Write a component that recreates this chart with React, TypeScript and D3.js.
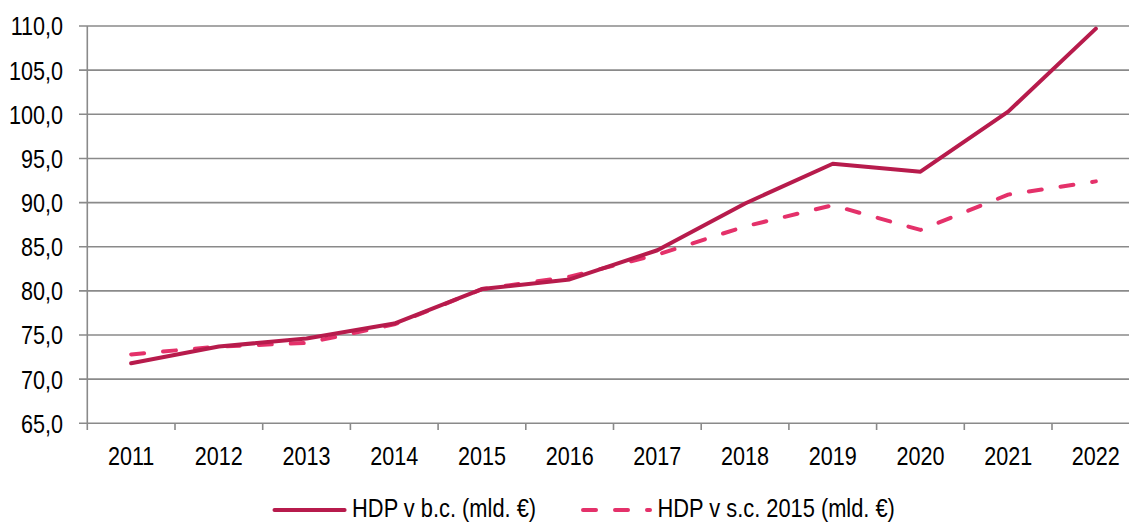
import React from 'react'
import * as d3 from 'd3'

const years = ['2011', '2012', '2013', '2014', '2015', '2016', '2017', '2018', '2019', '2020', '2021', '2022']
const hdpBc = [71.8, 73.7, 74.6, 76.3, 80.2, 81.3, 84.6, 89.9, 94.4, 93.5, 100.3, 109.7]
const hdpSc = [72.8, 73.7, 74.1, 76.2, 80.2, 81.6, 84.1, 87.3, 89.7, 86.9, 90.9, 92.4]
const yTicks = [65, 70, 75, 80, 85, 90, 95, 100, 105, 110]
const seriesNames = ['HDP v b.c. (mld. €)', 'HDP v s.c. 2015 (mld. €)']

const W = 1129
const H = 522
const FONT = "'Liberation Sans', Arial, sans-serif"
const SOLID = '#b71b4c'
const DASHED = '#e4316a'
const GRID = '#8a8a8a'

// no narrow font installed, so squeeze Liberation Sans horizontally
const Narrow = ({ x, y, anchor = 'start', dy, sx = 0.83, children }: any) => (
    <g transform={`translate(${x},${y}) scale(${sx},1)`}>
        <text x={0} y={0} dy={dy} textAnchor={anchor} fontSize={26} fill="#000">{children}</text>
    </g>
)

const App = () => {
    const left = 87.3
    const step = 87.7
    const x = d3.scaleBand().domain(years).range([left, left + step * years.length])
    const y = d3.scaleLinear().domain([65, 110]).range([423.3, 26])

    const line = d3.line<number>()
        .x((_, i) => x(years[i])! + x.bandwidth() / 2)
        .y(d => y(d))

    const legend = [
        { name: seriesNames[0], x1: 274.5, x2: 344.6, color: SOLID, dash: undefined },
        { name: seriesNames[1], x1: 583, x2: 650, color: DASHED, dash: '13,19' },
    ]

    return (
        <svg width={W} height={H} style={{ position: 'absolute', left: 0, top: 0, background: '#fff' }}
            fontFamily={FONT}>
            {/* gridlines + y ticks */}
            {yTicks.map(t => (
                <g key={t}>
                    <line x1={79} x2={W} y1={y(t)} y2={y(t)} stroke={GRID} strokeWidth={1.6} />
                    <Narrow x={63} y={y(t)} dy="0.36em" anchor="end">
                        {d3.format('.1f')(t).replace('.', ',')}
                    </Narrow>
                </g>
            ))}
            {/* y axis line */}
            <line x1={left} x2={left} y1={y(110)} y2={430} stroke={GRID} strokeWidth={1.6} />
            {/* x ticks */}
            {years.map((yr, i) => (
                <line key={'t' + yr} x1={left + step * (i + 1)} x2={left + step * (i + 1)}
                    y1={y(65)} y2={430} stroke={GRID} strokeWidth={1.6} />
            ))}
            {years.map(yr => (
                <Narrow key={yr} x={x(yr)! + x.bandwidth() / 2} y={465} anchor="middle">{yr}</Narrow>
            ))}
            {/* series */}
            <path d={line(hdpSc)!} fill="none" stroke={DASHED} strokeWidth={4}
                strokeDasharray="13,19" strokeLinecap="round" strokeLinejoin="round" />
            <path d={line(hdpBc)!} fill="none" stroke={SOLID} strokeWidth={4}
                strokeLinecap="round" strokeLinejoin="round" />
            {/* legend */}
            {legend.map(l => (
                <g key={l.name}>
                    <line x1={l.x1} x2={l.x2} y1={510} y2={510} stroke={l.color} strokeWidth={4}
                        strokeDasharray={l.dash} strokeLinecap="round" />
                    <Narrow x={l.x2 + 7.5} y={517} sx={0.84}>{l.name}</Narrow>
                </g>
            ))}
        </svg>
    )
}

export default App
